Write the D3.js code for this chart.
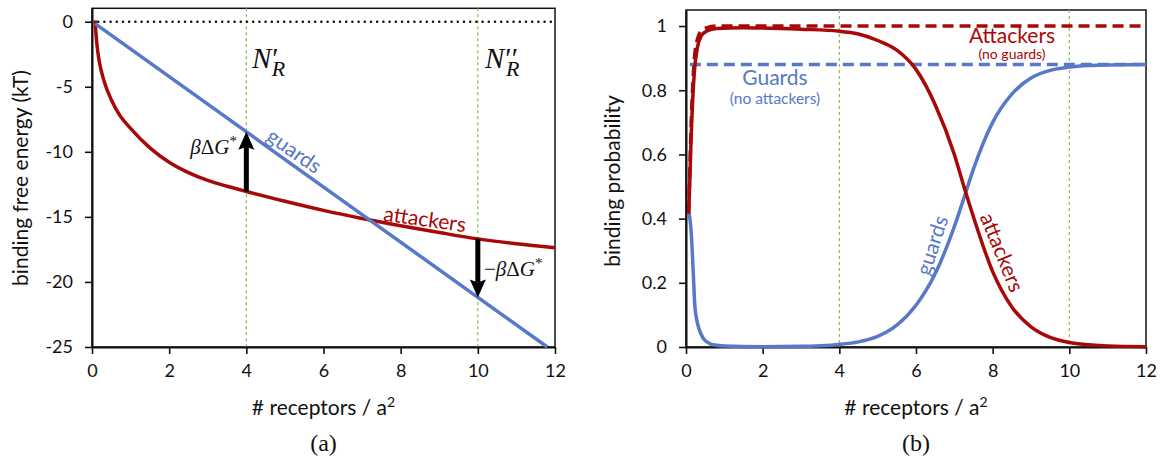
<!DOCTYPE html>
<html>
<head>
<meta charset="utf-8">
<script src="https://cdn.jsdelivr.net/npm/d3@7"></script>
<style>
  body { margin: 0; background: #fff; }
  svg text { font-family: Lato, "Open Sans", sans-serif; }
  svg text.math { font-family: "Liberation Serif", "DejaVu Serif", serif; }
</style>
</head>
<body>
<svg id="chart" width="1161" height="457"></svg>
<script>
// ---- data ----
const xTicks = [0, 2, 4, 6, 8, 10, 12];
const energyTicks = [0, -5, -10, -15, -20, -25];
const probTicks = [0, 0.2, 0.4, 0.6, 0.8, 1];
const markerN = [4, 10];

// (a) binding free energy
const energyGuardsX = [0.08, 11.8];
const energyGuardsY = [-0.15, -25];
const energyAttackersX = [0.08, 0.1, 0.13, 0.18, 0.25, 0.35, 0.5, 0.7, 1.0, 1.5, 2, 2.5, 3, 3.5, 4, 5, 6, 7, 8, 9, 10, 11, 12];
const energyAttackersY = [0.1, -0.8, -1.8, -2.9, -3.9, -4.9, -6.0, -7.1, -8.2, -9.7, -10.8, -11.6, -12.2, -12.65, -13.05, -13.8, -14.5, -15.12, -15.68, -16.2, -16.69, -17.07, -17.38];
// arrows: x, attackers value, guards value
const arrowX = [4, 10];
const arrowFrom = [-13.05, -16.69];
const arrowTo = [-8.46, -21.2];

// (b) binding probability
const probAttackersX = [0.07, 0.1, 0.13, 0.17, 0.22, 0.3, 0.4, 0.55, 0.8, 1.5, 2, 3, 4, 4.5, 5, 5.5, 6, 6.5, 7, 7.25, 7.5, 8, 8.5, 9, 9.5, 10, 10.5, 11, 12];
const probAttackersY = [0.415, 0.52, 0.64, 0.76, 0.86, 0.935, 0.97, 0.985, 0.992, 0.995, 0.994, 0.99, 0.984, 0.975, 0.955, 0.925, 0.865, 0.755, 0.6, 0.5, 0.405, 0.235, 0.125, 0.063, 0.03, 0.014, 0.007, 0.003, 0.001];
const probGuardsX = [0.08, 0.12, 0.15, 0.19, 0.23, 0.28, 0.33, 0.45, 0.6, 0.75, 1.0, 2, 3, 3.5, 4, 4.5, 5, 5.5, 6, 6.5, 7, 7.28, 7.5, 8, 8.5, 9, 9.5, 10, 10.5, 11, 12];
const probGuardsY = [0.42, 0.38, 0.33, 0.23, 0.13, 0.085, 0.06, 0.027, 0.012, 0.006, 0.003, 0.001, 0.002, 0.004, 0.008, 0.016, 0.033, 0.068, 0.13, 0.228, 0.375, 0.475, 0.555, 0.7, 0.788, 0.838, 0.862, 0.872, 0.877, 0.879, 0.88];
const probAttackersAloneX = [0.07, 0.1, 0.13, 0.17, 0.22, 0.3, 0.4, 0.55, 0.8, 12];
const probAttackersAloneY = [0.42, 0.55, 0.68, 0.8, 0.9, 0.96, 0.985, 0.995, 1, 1];
const probGuardsAloneX = [0.1, 12];
const probGuardsAloneY = [0.88, 0.88];

const BLUE = '#5878c8';
const RED = '#a80808';
const GREEN = '#8cba58';

const svg = d3.select('#chart');
const zip = (xs, ys) => xs.map((x, i) => [x, ys[i]]);

function drawPanel(p) {
  const x = d3.scaleLinear().domain([0, 12]).range(p.xRange);
  const y = d3.scaleLinear().domain(p.yDomain).range(p.yRange);
  const g = svg.append('g');

  // frame
  g.append('rect')
    .attr('x', p.xRange[0]).attr('y', p.yRange[1])
    .attr('width', p.xRange[1] - p.xRange[0])
    .attr('height', p.yRange[0] - p.yRange[1])
    .attr('fill', 'none').attr('stroke', '#111').attr('stroke-width', 1.5);

  // green marker lines
  g.selectAll('.marker').data(markerN).enter().append('line')
    .attr('x1', d => x(d)).attr('x2', d => x(d))
    .attr('y1', p.yRange[1]).attr('y2', p.yRange[0])
    .attr('stroke', GREEN).attr('stroke-width', 1.2).attr('stroke-dasharray', '3,3');

  const xAxis = g.append('g')
    .attr('transform', `translate(0,${p.yRange[0]})`)
    .call(d3.axisBottom(x).tickValues(xTicks).tickSize(7).tickSizeOuter(0).tickPadding(10).tickFormat(d => String(d)));
  const yAxis = g.append('g')
    .attr('transform', `translate(${p.xRange[0]},0)`)
    .call(d3.axisLeft(y).tickValues(p.yTicks).tickSize(7).tickSizeOuter(0).tickPadding(12).tickFormat(d => String(d)));
  [xAxis, yAxis].forEach(a => {
    a.attr('font-family', null).attr('font-size', 18);
    a.select('.domain').attr('stroke', '#111').attr('stroke-width', 2);
    a.selectAll('.tick line').attr('stroke', '#111').attr('stroke-width', 1.6);
    a.selectAll('.tick text').attr('fill', '#111');
  });

  // axis titles
  const xt = g.append('text')
    .attr('x', (p.xRange[0] + p.xRange[1]) / 2).attr('y', 415)
    .attr('text-anchor', 'middle').attr('font-size', 21).attr('fill', '#111');
  xt.append('tspan').text('# receptors / a');
  xt.append('tspan').attr('font-size', 14).attr('dy', -8).text('2');
  g.append('text')
    .attr('transform', `translate(${p.titleX},${p.titleY}) rotate(-90)`)
    .attr('text-anchor', 'middle').attr('font-size', 21).attr('fill', '#111')
    .text(p.yTitle);
  g.append('text').attr('class', 'math')
    .attr('x', (p.xRange[0] + p.xRange[1]) / 2).attr('y', 451)
    .attr('text-anchor', 'middle').attr('font-size', 24).attr('fill', '#111')
    .text(p.tag);

  return { g, x, y };
}

// ---------- panel (a) ----------
const A = drawPanel({
  xRange: [92, 555], yDomain: [-25, 1.03], yRange: [347, 8.3],
  yTicks: energyTicks, yTitle: 'binding free energy (kT)', titleX: 28, titleY: 178, tag: '(a)'
});

A.g.append('line')
  .attr('x1', A.x(0)).attr('x2', A.x(12))
  .attr('y1', A.y(0)).attr('y2', A.y(0))
  .attr('stroke', '#111').attr('stroke-width', 2.6)
  .attr('stroke-linecap', 'round').attr('stroke-dasharray', '0,6.2');

const lineA = d3.line().x(d => A.x(d[0])).y(d => A.y(d[1])).curve(d3.curveMonotoneX);
A.g.append('path').datum(zip(energyAttackersX, energyAttackersY))
  .attr('d', lineA).attr('fill', 'none').attr('stroke', RED).attr('stroke-width', 3.5);
A.g.append('path').datum(zip(energyGuardsX, energyGuardsY))
  .attr('d', d3.line().x(d => A.x(d[0])).y(d => A.y(d[1])))
  .attr('fill', 'none').attr('stroke', BLUE).attr('stroke-width', 3.5);

// arrows
arrowX.forEach((xv, i) => {
  const px = A.x(xv), y0 = A.y(arrowFrom[i]), y1 = A.y(arrowTo[i]);
  const dir = y1 < y0 ? -1 : 1;
  const headLen = 15, headW = 8;
  A.g.append('line')
    .attr('x1', px).attr('x2', px).attr('y1', y0).attr('y2', y1 - dir * headLen)
    .attr('stroke', '#000').attr('stroke-width', 5);
  A.g.append('path')
    .attr('d', `M${px},${y1} L${px - headW},${y1 - dir * (headLen + 3)} L${px},${y1 - dir * headLen} L${px + headW},${y1 - dir * (headLen + 3)} Z`)
    .attr('fill', '#000');
});

// labels (a)
A.g.append('text')
  .attr('transform', 'translate(295,150) rotate(35)')
  .attr('text-anchor', 'middle').attr('dominant-baseline', 'central')
  .attr('font-size', 21).attr('fill', BLUE).text('guards');
A.g.append('text')
  .attr('transform', 'translate(425,218) rotate(8)')
  .attr('text-anchor', 'middle').attr('dominant-baseline', 'central')
  .attr('font-size', 21).attr('fill', RED).text('attackers');

function nLabel(xPos, primes) {
  const t = A.g.append('text').attr('class', 'math')
    .attr('x', xPos).attr('y', 68).attr('font-size', 29).attr('fill', '#111');
  t.append('tspan').attr('font-style', 'italic').text('N');
  t.append('tspan').attr('dx', 1).text(primes);
  t.append('tspan').attr('font-style', 'italic').attr('font-size', 22)
    .attr('dx', primes.length > 1 ? -12 : -7).attr('dy', 8).text('R');
}
nLabel(252, '′');
nLabel(485, '′′');

function dgLabel(xPos, yPos, anchor, minus) {
  const t = A.g.append('text').attr('class', 'math')
    .attr('x', xPos).attr('y', yPos).attr('text-anchor', anchor)
    .attr('font-size', 21).attr('fill', '#111');
  if (minus) t.append('tspan').text('−');
  t.append('tspan').attr('font-style', 'italic').text('β');
  t.append('tspan').text('Δ');
  t.append('tspan').attr('font-style', 'italic').text('G');
  t.append('tspan').attr('font-size', 15).attr('dy', -8).text('*');
}
dgLabel(237, 154, 'end', false);
dgLabel(484, 276, 'start', true);

// ---------- panel (b) ----------
const B = drawPanel({
  xRange: [686, 1146], yDomain: [0, 1.05], yRange: [347, 10],
  yTicks: probTicks, yTitle: 'binding probability', titleX: 620, titleY: 181, tag: '(b)'
});

const lineB = d3.line().x(d => B.x(d[0])).y(d => B.y(d[1])).curve(d3.curveMonotoneX);
[[probAttackersAloneX, probAttackersAloneY, RED], [probGuardsAloneX, probGuardsAloneY, BLUE]].forEach(s => {
  B.g.append('path').datum(zip(s[0], s[1]))
    .attr('d', lineB).attr('fill', 'none').attr('stroke', s[2])
    .attr('stroke-width', 3.5).attr('stroke-dasharray', '11,6');
});
[[probGuardsX, probGuardsY, BLUE], [probAttackersX, probAttackersY, RED]].forEach(s => {
  B.g.append('path').datum(zip(s[0], s[1]))
    .attr('d', lineB).attr('fill', 'none').attr('stroke', s[2]).attr('stroke-width', 3.5);
});

// labels (b)
B.g.append('text').attr('x', 1012).attr('y', 43).attr('text-anchor', 'middle')
  .attr('font-size', 21).attr('fill', RED).text('Attackers');
B.g.append('text').attr('x', 1012).attr('y', 59).attr('text-anchor', 'middle')
  .attr('font-size', 14).attr('fill', RED).text('(no guards)');
B.g.append('text').attr('x', 775).attr('y', 85).attr('text-anchor', 'middle')
  .attr('font-size', 21).attr('fill', BLUE).text('Guards');
B.g.append('text').attr('x', 775).attr('y', 104).attr('text-anchor', 'middle')
  .attr('font-size', 15.5).attr('fill', BLUE).text('(no attackers)');
B.g.append('text')
  .attr('transform', 'translate(931,245) rotate(-72)')
  .attr('text-anchor', 'middle').attr('dominant-baseline', 'central')
  .attr('font-size', 21).attr('fill', BLUE).text('guards');
B.g.append('text')
  .attr('transform', 'translate(1003,252) rotate(68)')
  .attr('text-anchor', 'middle').attr('dominant-baseline', 'central')
  .attr('font-size', 21).attr('fill', RED).text('attackers');
</script>
</body>
</html>
